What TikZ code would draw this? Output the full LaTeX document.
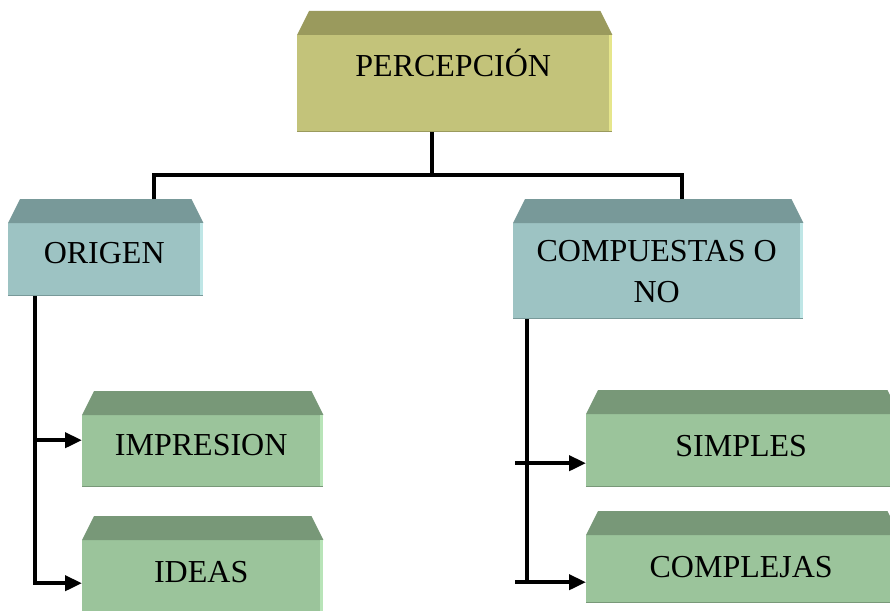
\documentclass[tikz,border=0pt]{standalone}
\usepackage{fontspec}
\setmainfont{Liberation Serif}
\usetikzlibrary{arrows.meta}

\definecolor{oliva}{HTML}{C3C37A}
\definecolor{olivaosc}{HTML}{9A9A5D}
\definecolor{olivaclaro}{HTML}{E6E68C}
\definecolor{azul}{HTML}{9DC3C3}
\definecolor{azulosc}{HTML}{789999}
\definecolor{azulclaro}{HTML}{BFE6E6}
\definecolor{verde}{HTML}{9BC49B}
\definecolor{verdeosc}{HTML}{789878}
\definecolor{verdeclaro}{HTML}{B8E4B8}

% top face and light side of a box
\newcommand{\bisel}[3]{%
  \fill[#2] (#1.north west) -- ([xshift=12pt,yshift=24pt]#1.north west) --
            ([xshift=-9pt,yshift=24pt]#1.north east) -- ([xshift=3pt]#1.north east) -- cycle;
  \fill[#3] (#1.north east) rectangle ([xshift=3pt]#1.south east);
  \draw[#2, line width=1pt] ([yshift=0.5pt]#1.south west) -- ([yshift=0.5pt,xshift=3pt]#1.south east);
  \coordinate (#1 top) at ([yshift=24pt]#1.north);
}

\begin{document}
\begin{tikzpicture}[
    x = 1pt, y = -1pt,
    every node/.style = {font = \fontsize{32pt}{41pt}\selectfont},
    caja/.style = {rectangle, inner sep = 0pt, anchor = north west},
    linea/.style = {line width = 4pt},
    flecha/.style = {line width = 4pt, -{Triangle[length=17pt,width=15pt]}}]

\useasboundingbox (0,0) rectangle (890,610);

\node[caja, fill=oliva, minimum width=312pt, text height=41pt, text depth=56pt] (perc) at (297,35) {PERCEPCIÓN};
\node[caja, fill=azul, minimum width=192pt, text height=40pt, text depth=33pt] (origen) at (8,223) {ORIGEN};
\node[caja, fill=azul, minimum width=287pt, minimum height=96pt, align=center] (comp) at (513,223) {COMPUESTAS O\\NO};
\node[caja, fill=verde, minimum width=238pt, text height=40pt, text depth=32pt] (impr) at (82,415) {IMPRESION};
\node[caja, fill=verde, minimum width=238pt, text height=42pt, text depth=30pt] (ideas) at (82,540) {IDEAS};
\node[caja, fill=verde, minimum width=310pt, text height=42pt, text depth=31pt] (simples) at (586,414) {SIMPLES};
\node[caja, fill=verde, minimum width=310pt, text height=42pt, text depth=26pt] (compl) at (586,535) {COMPLEJAS};

\bisel{perc}{olivaosc}{olivaclaro}
\bisel{origen}{azulosc}{azulclaro}
\bisel{comp}{azulosc}{azulclaro}
\bisel{impr}{verdeosc}{verdeclaro}
\bisel{ideas}{verdeosc}{verdeclaro}
\bisel{simples}{verdeosc}{verdeclaro}
\bisel{compl}{verdeosc}{verdeclaro}

\coordinate (rama) at (432,175);
\coordinate (eje izq) at (35,0);
\coordinate (eje der) at (527,0);
\coordinate (eje der2) at (515,0);
\coordinate (a1) at ([yshift=11pt]impr.west);
\coordinate (a2) at ([yshift=-7pt]ideas.west);
\coordinate (a3) at ([yshift=-12.5pt]simples.west);
\coordinate (a4) at ([yshift=-13pt]compl.west);

\draw[linea] (rama |- perc.south) -- (rama);
\draw[linea] ([xshift=50pt]origen top) |- (rama) -| ([xshift=25pt]comp top);

\draw[flecha] (eje izq |- origen.south) |- (a2);
\draw[flecha] (eje izq |- a1) -- (a1);

\draw[linea] (eje der |- comp.south) -- ([yshift=-1pt]eje der |- a4);
\draw[flecha] (eje der2 |- a3) -- (a3);
\draw[flecha] (eje der2 |- a4) -- (a4);
\end{tikzpicture}
\end{document}
